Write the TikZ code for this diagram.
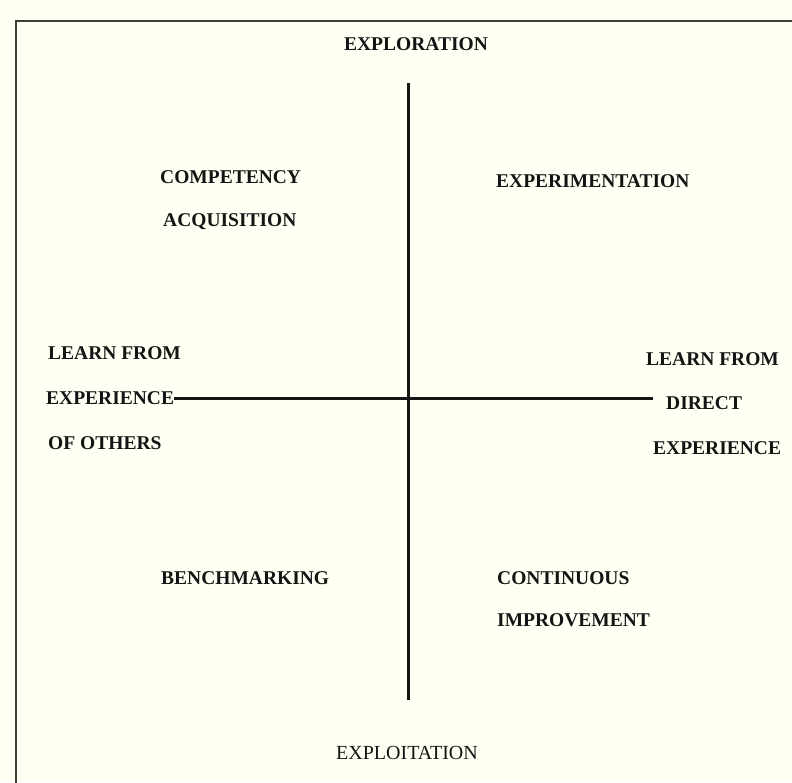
\documentclass[tikz,border=0pt]{standalone}
\usepackage{fontspec}
\setmainfont{Liberation Serif}
\definecolor{paper}{RGB}{255,255,244}
\definecolor{frame}{RGB}{60,60,60}
\definecolor{axis}{RGB}{20,20,20}

\begin{document}
\begin{tikzpicture}[x=1pt,y=-1pt]
\tikzstyle{every node}=[inner sep=0pt,text height=13pt,text depth=0pt,text=axis,font=\fontsize{19.5}{21}\selectfont\bfseries];
\tikzstyle{lab}=[anchor=west];
\useasboundingbox[fill=paper] (0,0) rectangle (792,782);
\draw[frame,line width=2pt] (800,20.5) -- (16,20.5) -- (16,800);

\node (explor) at (416,44) {EXPLORATION};
\node[font=\fontsize{20}{22}\selectfont] (exploit) at (407,753) {EXPLOITATION};

\node[lab] (compA) at (160,177) {COMPETENCY};
\node[lab] (compB) at (163,220) {ACQUISITION};
\node[lab] (experim) at (496,181) {EXPERIMENTATION};
\node[lab] (bench) at (161,578) {BENCHMARKING};
\node[lab] (contA) at (497,578) {CONTINUOUS};
\node[lab] (contB) at (497,620) {IMPROVEMENT};

\node[lab] (learnL) at (48,353) {LEARN FROM};
\node[lab] (expL) at (46,398) {EXPERIENCE};
\node[lab] (othersL) at (48,443) {OF OTHERS};
\node[lab] (learnR) at (646,358.5) {LEARN FROM};
\node[lab] (directR) at (666,403) {DIRECT};
\node[lab] (expR) at (653,448) {EXPERIENCE};

\coordinate (top) at (408,83);
\coordinate (bottom) at (408,700);
\coordinate (right) at (652.5,398);
\foreach \from/\to in {top/bottom, expL/right}
    \draw [axis,line width=3pt] (\from) -- (\to);
\end{tikzpicture}
\end{document}
